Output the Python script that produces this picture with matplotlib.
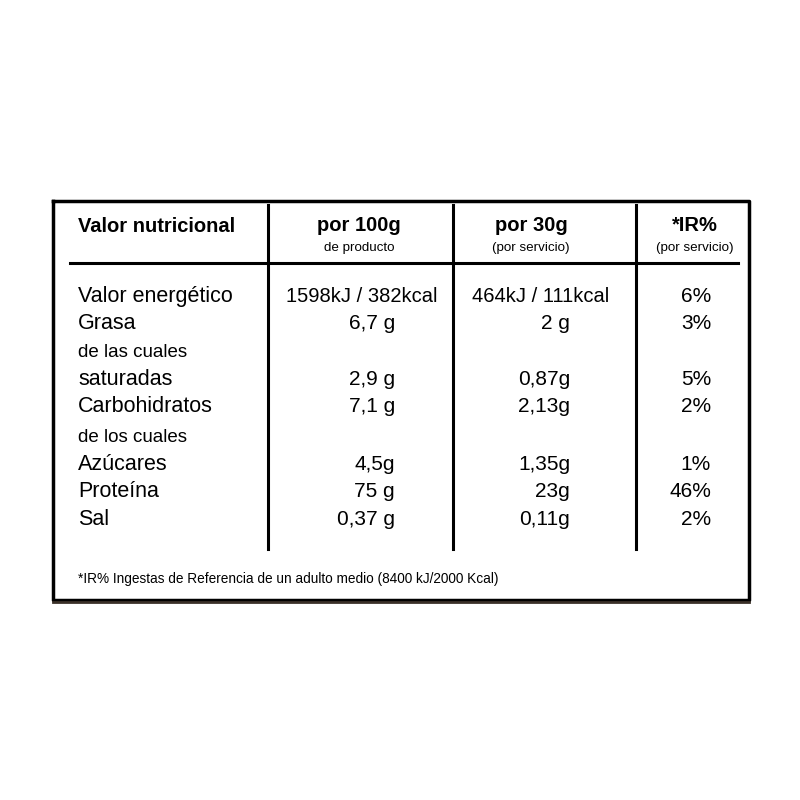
import matplotlib.pyplot as plt

# datos de la tabla
nutrientes = ['Valor energético', 'Grasa', 'de las cuales', 'saturadas', 'Carbohidratos',
              'de los cuales', 'Azúcares', 'Proteína', 'Sal']
por_100g = ['1598kJ / 382kcal', '6,7 g', '', '2,9 g', '7,1 g', '', '4,5g', '75 g', '0,37 g']
por_30g = ['464kJ / 111kcal', '2 g', '', '0,87g', '2,13g', '', '1,35g', '23g', '0,11g']
ir_pct = ['6%', '3%', '', '5%', '2%', '', '1%', '46%', '2%']
cabeceras = ['Valor nutricional', 'por 100g', 'por 30g', '*IR%']
subcabeceras = ['', 'de producto', '(por servicio)', '(por servicio)']
nota = '*IR% Ingestas de Referencia de un adulto medio (8400 kJ/2000 Kcal)'

plt.rcParams['font.family'] = ['Liberation Sans', 'DejaVu Sans']

fig = plt.figure(figsize=(8, 8), dpi=100)
ax = fig.add_axes([0, 0, 1, 1])
ax.set_xlim(0, 800)
ax.set_ylim(800, 0)
ax.axis('off')

# marco exterior
ax.plot([53, 749, 749, 53, 53], [201, 201, 600, 600, 201], color='black', lw=2.5)
ax.plot([53, 749], [601.5, 601.5], color='#3a3028', lw=2)
# linea bajo cabecera
ax.plot([70, 738], [263, 263], color='black', lw=2.2)
# separadores de columnas
for x in [268, 453, 636]:
    ax.plot([x, x], [205, 549], color='black', lw=2.2)

# cabecera
ax.text(78, 232, cabeceras[0], fontsize=14.5, fontweight='bold', va='baseline', ha='left')
col_x = [359, 531, 695]
for i, cx in enumerate(col_x):
    ax.text(cx, 231, cabeceras[i + 1], fontsize=14.5, fontweight='bold', va='baseline', ha='center')
    ax.text(cx, 251, subcabeceras[i + 1], fontsize=9.6, va='baseline', ha='center')

# filas (lineas base)
ys = [302, 329, 357, 385, 412, 442, 470, 497, 525]
for y, n, a, b, c in zip(ys, nutrientes, por_100g, por_30g, ir_pct):
    peque = n.startswith('de l')
    ax.text(78, y, n, fontsize=13.5 if peque else 15.5, va='baseline', ha='left')
    if a.startswith('1598'):
        ax.text(362, y, a, fontsize=14.5, va='baseline', ha='center')
        ax.text(541, y, b, fontsize=14.5, va='baseline', ha='center')
    else:
        if a:
            ax.text(395, y, a, fontsize=15, va='baseline', ha='right')
        if b:
            ax.text(570, y, b, fontsize=15, va='baseline', ha='right')
    if c:
        ax.text(711, y, c, fontsize=15, va='baseline', ha='right')

ax.text(78, 583, nota, fontsize=9.8, va='baseline', ha='left')

fig.savefig('out.png', dpi=100, facecolor='white')
